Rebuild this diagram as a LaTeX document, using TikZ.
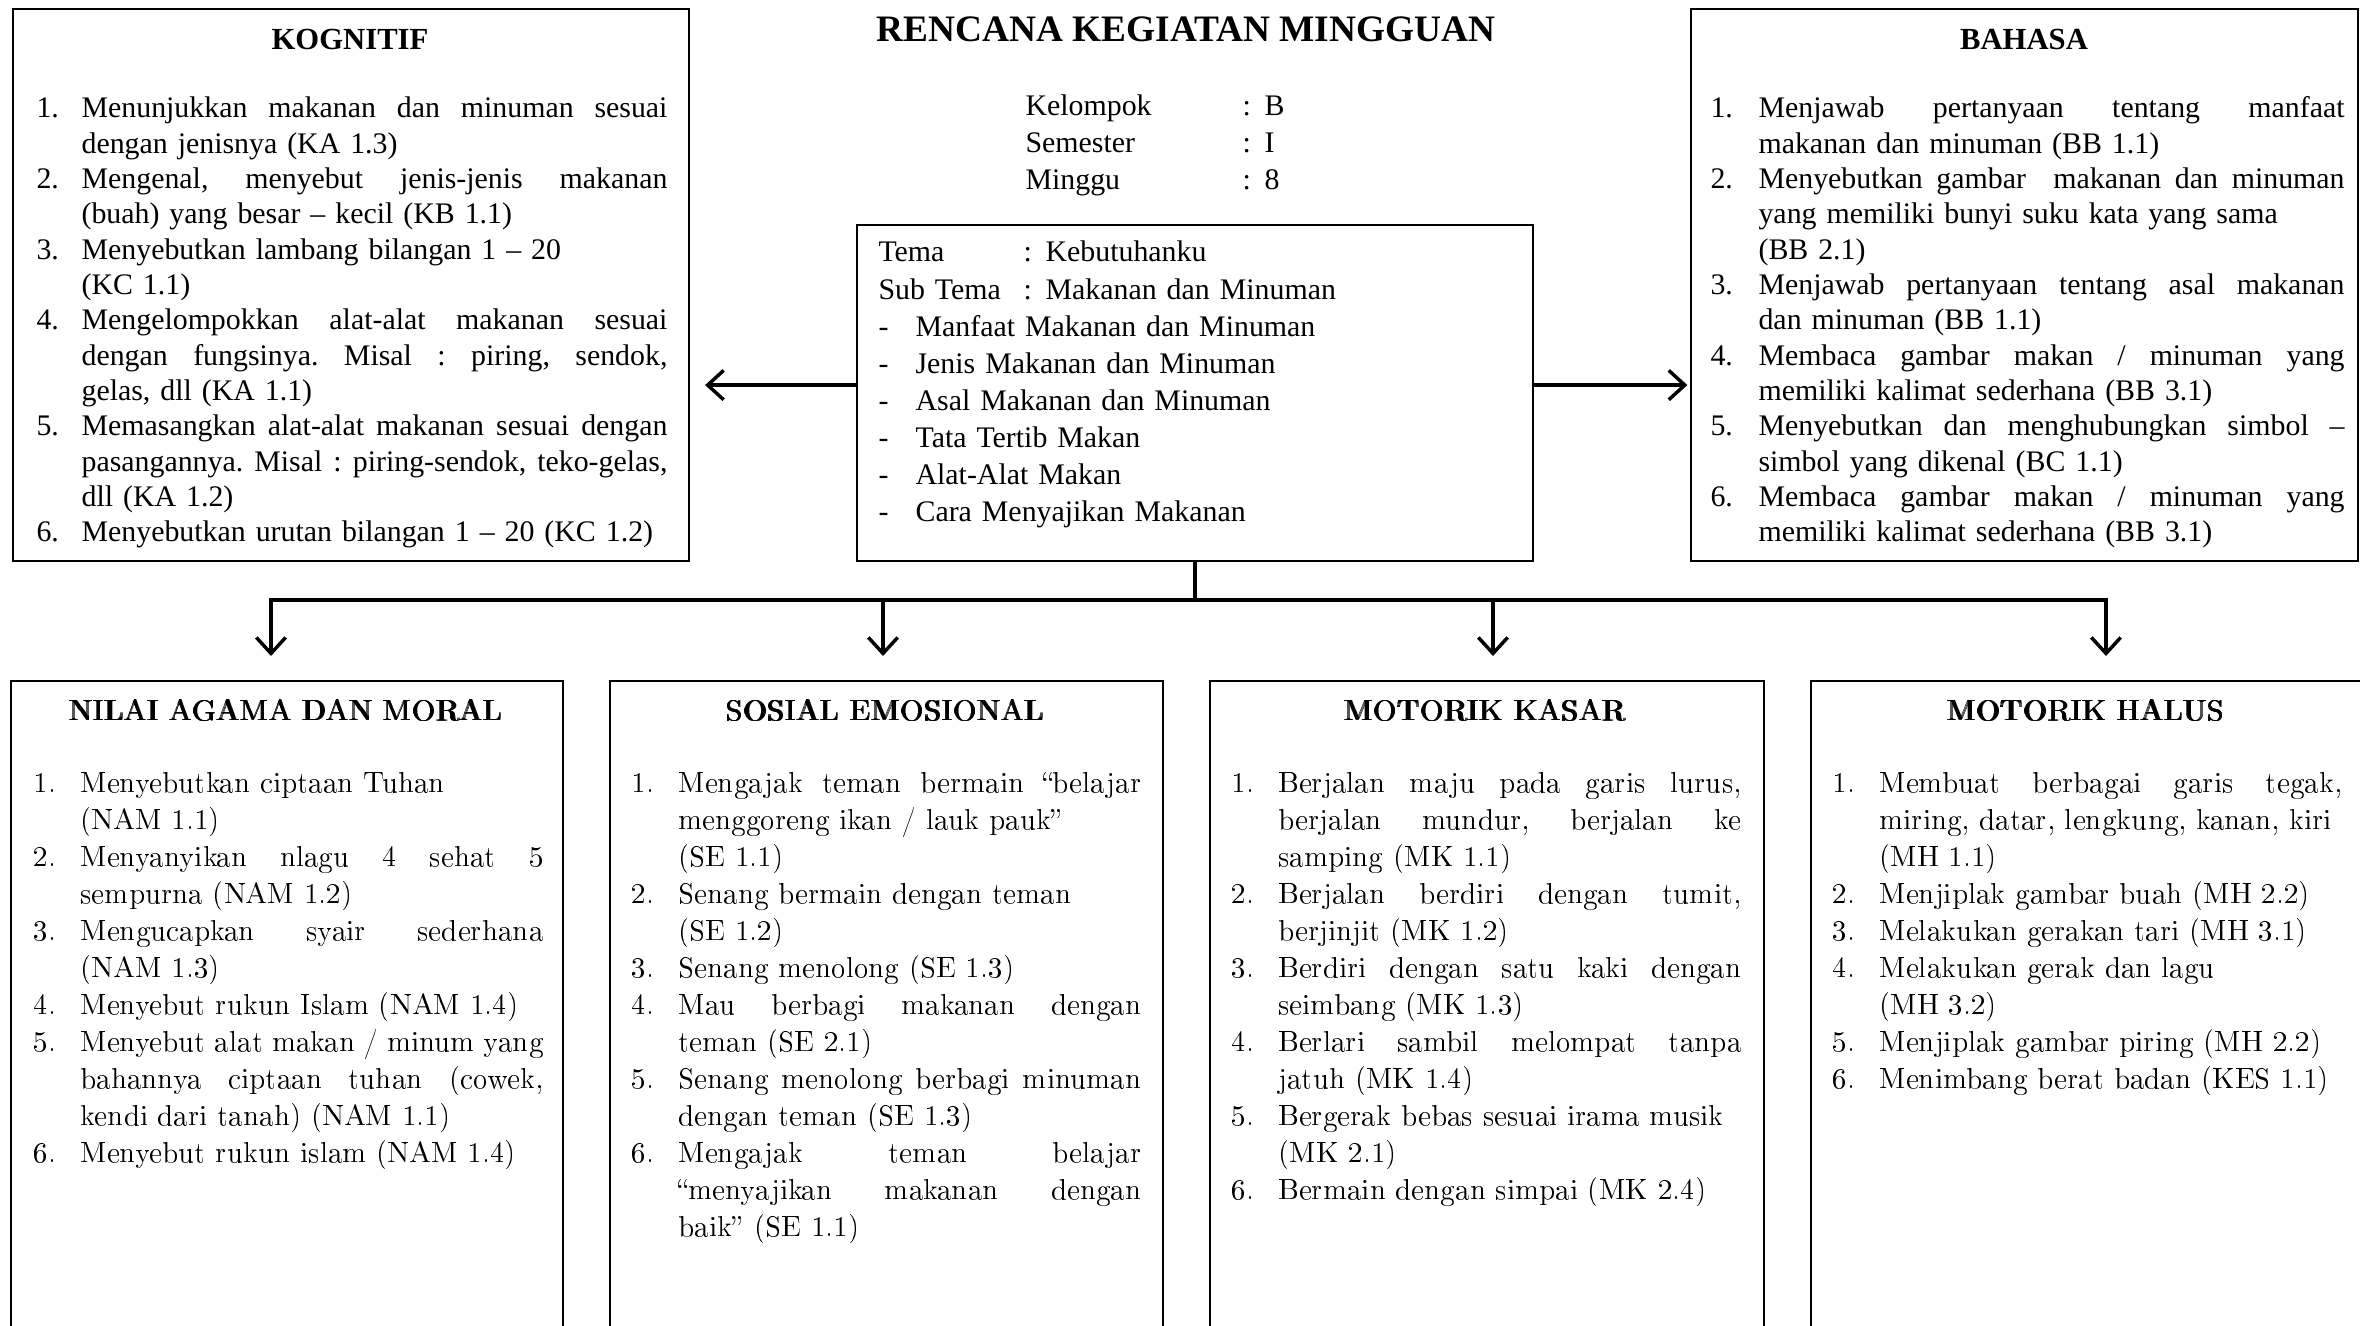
\documentclass[tikz,border=0pt]{standalone}
\usepackage{graphicx}
\usepackage{fontspec}
\setmainfont{Liberation Serif}
\usetikzlibrary{arrows.meta}
\newlength\numw
\def\jw{100pt}
\newcommand\Li[2]{\hangindent=\numw\hangafter=1\noindent\makebox[\numw][l]{#1}#2\par}
\newcommand\J[1]{\hbox to \jw{\frenchspacing\spaceskip=0pt\xspaceskip=0pt #1}\newline}
\newcommand\pbold[1]{\scalebox{1.08}[1]{\makebox[0pt][l]{#1}\makebox[0pt][l]{\kern0.25pt#1}\kern0.5pt#1}}
\newcommand\topfont{\fontsize{11.2pt}{13.25pt}\selectfont}
\newcommand\botfont{\fontencoding{T1}\fontfamily{qcs}\fontsize{10.5pt}{13.9pt}\selectfont}
\tikzset{
  box/.style={draw, line width=0.8pt, inner sep=0pt, anchor=north west},
  ttl/.style={anchor=base, inner sep=0pt, font=\bfseries\fontsize{11.5pt}{13.9pt}\selectfont},
  bttl/.style={anchor=base, inner sep=0pt, font=\botfont},
  toplist/.style={anchor=base west, inner sep=0pt, font=\topfont},
  botlist/.style={anchor=base west, inner sep=0pt, font=\botfont, text width=191.25pt},
  conn/.style={line width=1.3pt},
  arr/.style={line width=1.3pt, -{Straight Barb[length=6pt,width=11pt]}},
}
\begin{document}
\begin{tikzpicture}[x=0.375pt,y=-0.375pt]
\useasboundingbox (0,0) rectangle (2360,1326);
\clip (0,0) rectangle (2360,1326);

% boxes
\node[box, minimum width=253.5pt, minimum height=207pt] (kog) at (12,8) {};
\node[box, minimum width=253.5pt, minimum height=126pt] (tema) at (856,224) {};
\node[box, minimum width=250.1pt, minimum height=207pt] (bah) at (1690,8) {};
\node[box, minimum width=207pt, minimum height=262.5pt] (b1) at (10,680) {};
\node[box, minimum width=207.4pt, minimum height=262.5pt] (b2) at (609,680) {};
\node[box, minimum width=207.75pt, minimum height=262.5pt] (b3) at (1209,680) {};
\node[box, minimum width=207.4pt, minimum height=262.5pt] (b4) at (1810,680) {};

% title and info
\node[anchor=base, inner sep=0pt, font=\bfseries\fontsize{14pt}{16pt}\selectfont] (title) at (1186,42) {RENCANA KEGIATAN MINGGUAN};
\node[anchor=base west, inner sep=0pt, text width=150pt, font=\fontsize{11.2pt}{13.7pt}\selectfont] (info) at (1025,116)
{\makebox[81.4pt][l]{Kelompok}\makebox[8.25pt][l]{:}B\newline
 \makebox[81.4pt][l]{Semester}\makebox[8.25pt][l]{:}I\newline
 \makebox[81.4pt][l]{Minggu}\makebox[8.25pt][l]{:}8};

\node[anchor=base west, inner sep=0pt, text width=240pt, font=\fontsize{11.2pt}{13.9pt}\selectfont] (tematext) at (878,262)
{\makebox[54.4pt][l]{Tema}\makebox[8.25pt][l]{:}Kebutuhanku\newline
 \makebox[54.4pt][l]{Sub Tema}\makebox[8.25pt][l]{:}Makanan dan Minuman\newline
 \makebox[13.9pt][l]{-}Manfaat Makanan dan Minuman\newline
 \makebox[13.9pt][l]{-}Jenis Makanan dan Minuman\newline
 \makebox[13.9pt][l]{-}Asal Makanan dan Minuman\newline
 \makebox[13.9pt][l]{-}Tata Tertib Makan\newline
 \makebox[13.9pt][l]{-}Alat-Alat Makan\newline
 \makebox[13.9pt][l]{-}Cara Menyajikan Makanan};

% KOGNITIF
\node[ttl] (kogt) at (350,50) {KOGNITIF};
\node[toplist, text width=236.6pt] (kogl) at (36,118) {\setlength\numw{16.9pt}\def\jw{219.7pt}%
\Li{1.}{\J{Menunjukkan makanan dan minuman sesuai}dengan jenisnya (KA 1.3)}%
\Li{2.}{\J{Mengenal, menyebut jenis-jenis makanan}(buah) yang besar – kecil (KB 1.1)}%
\Li{3.}{Menyebutkan lambang bilangan 1 – 20\newline (KC 1.1)}%
\Li{4.}{\J{Mengelompokkan alat-alat makanan sesuai}\J{dengan fungsinya. Misal : piring, sendok,}gelas, dll (KA 1.1)}%
\Li{5.}{\J{Memasangkan alat-alat makanan sesuai dengan}\J{pasangannya. Misal : piring-sendok, teko-gelas,}dll (KA 1.2)}%
\Li{6.}{Menyebutkan urutan bilangan 1 – 20 (KC 1.2)}};

% BAHASA
\node[ttl] (baht) at (2024,50) {BAHASA};
\node[toplist, text width=237.75pt] (bahl) at (1710,118) {\setlength\numw{18pt}\def\jw{219.75pt}%
\Li{1.}{\J{Menjawab pertanyaan tentang manfaat}makanan dan minuman (BB 1.1)}%
\Li{2.}{\J{Menyebutkan gambar\ \ makanan dan minuman}yang memiliki bunyi suku kata yang sama\newline (BB 2.1)}%
\Li{3.}{\J{Menjawab pertanyaan tentang asal makanan}dan minuman (BB 1.1)}%
\Li{4.}{\J{Membaca gambar makan / minuman yang}memiliki kalimat sederhana (BB 3.1)}%
\Li{5.}{\J{Menyebutkan dan menghubungkan simbol –}simbol yang dikenal (BC 1.1)}%
\Li{6.}{\J{Membaca gambar makan / minuman yang}memiliki kalimat sederhana (BB 3.1)}};

% bottom titles
\node[bttl] (b1t) at (286,720) {\pbold{NILAI AGAMA DAN MORAL}};
\node[bttl] (b2t) at (885,720) {\pbold{SOSIAL EMOSIONAL}};
\node[bttl] (b3t) at (1485,720) {\pbold{MOTORIK KASAR}};
\node[bttl] (b4t) at (2086,720) {\pbold{MOTORIK HALUS}};

\node[botlist] (b1l) at (33,792) {\setlength\numw{17.6pt}\def\jw{173.65pt}%
\Li{1.}{Menyebutkan ciptaan Tuhan\newline (NAM 1.1)}%
\Li{2.}{\J{Menyanyikan nlagu 4 sehat 5}sempurna (NAM 1.2)}%
\Li{3.}{\J{Mengucapkan syair sederhana}(NAM 1.3)}%
\Li{4.}{Menyebut rukun Islam (NAM 1.4)}%
\Li{5.}{\J{Menyebut alat makan / minum yang}\J{bahannya ciptaan tuhan (cowek,}kendi dari tanah) (NAM 1.1)}%
\Li{6.}{Menyebut rukun islam (NAM 1.4)}};

\node[botlist] (b2l) at (631,792) {\setlength\numw{17.6pt}\def\jw{173.65pt}%
\Li{1.}{\J{Mengajak teman bermain ``belajar}menggoreng ikan / lauk pauk''\newline (SE 1.1)}%
\Li{2.}{Senang bermain dengan teman\newline (SE 1.2)}%
\Li{3.}{Senang menolong (SE 1.3)}%
\Li{4.}{\J{Mau berbagi makanan dengan}teman (SE 2.1)}%
\Li{5.}{\J{Senang menolong berbagi minuman}dengan teman (SE 1.3)}%
\Li{6.}{\J{Mengajak teman belajar}\J{``menyajikan makanan dengan}baik'' (SE 1.1)}};

\node[botlist] (b3l) at (1231,792) {\setlength\numw{17.6pt}\def\jw{173.65pt}%
\Li{1.}{\J{Berjalan maju pada garis lurus,}\J{berjalan mundur, berjalan ke}samping (MK 1.1)}%
\Li{2.}{\J{Berjalan berdiri dengan tumit,}berjinjit (MK 1.2)}%
\Li{3.}{\J{Berdiri dengan satu kaki dengan}seimbang (MK 1.3)}%
\Li{4.}{\J{Berlari sambil melompat tanpa}jatuh (MK 1.4)}%
\Li{5.}{Bergerak bebas sesuai irama musik\newline (MK 2.1)}%
\Li{6.}{Bermain dengan simpai (MK 2.4)}};

\node[botlist] (b4l) at (1832,792) {\setlength\numw{17.6pt}\def\jw{173.65pt}%
\Li{1.}{\J{Membuat berbagai garis tegak,}miring, datar, lengkung, kanan, kiri\newline (MH 1.1)}%
\Li{2.}{Menjiplak gambar buah (MH 2.2)}%
\Li{3.}{Melakukan gerakan tari (MH 3.1)}%
\Li{4.}{Melakukan gerak dan lagu\newline (MH 3.2)}%
\Li{5.}{Menjiplak gambar piring (MH 2.2)}%
\Li{6.}{Menimbang berat badan (KES 1.1)}};

% connectors
\draw[arr, shorten >=5.6pt] ([yshift=3pt]tema.west) -- ([yshift=3pt]tema.west -| kog.east);
\draw[arr, shorten >=1pt] ([yshift=3pt]tema.east) -- ([yshift=3pt]tema.east -| bah.west);
\coordinate (a1) at (271,600);
\coordinate (a2) at (883,600);
\coordinate (a3) at (1493,600);
\coordinate (a4) at (2106,600);
\draw[conn] (tema.south) -- (tema.south |- a1);
\draw[conn, line cap=rect] (a1) -- (a4);
\draw[arr, shorten >=9pt] (a1) -- (a1 |- b1.north);
\draw[arr, shorten >=9pt] (a2) -- (a2 |- b2.north);
\draw[arr, shorten >=9pt] (a3) -- (a3 |- b3.north);
\draw[arr, shorten >=9pt] (a4) -- (a4 |- b4.north);
\end{tikzpicture}
\end{document}
